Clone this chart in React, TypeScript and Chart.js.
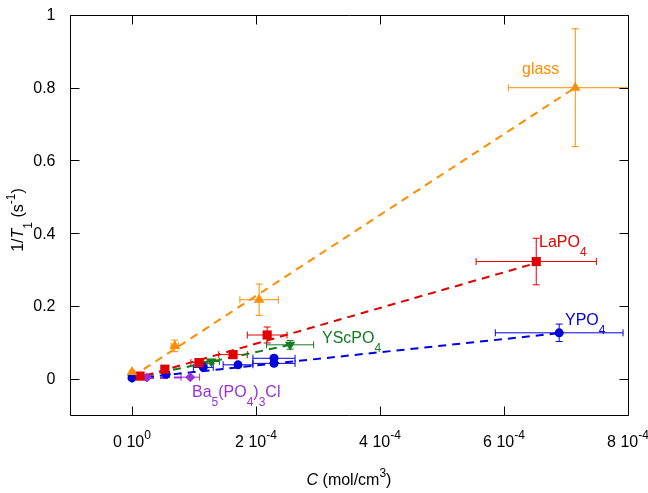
import React, { useEffect, useRef } from 'react';
import { Chart, registerables } from 'chart.js';

Chart.register(...registerables);

// ---- data (concentration C in mol/cm3, 1/T1 in s^-1) ----
const glassX = [0, 6.9e-5, 2.05e-4, 7.15e-4];
const glassY = [0.018, 0.09, 0.217, 0.8];
const glassXErr = [0, 6e-6, 3.1e-5, 1.08e-4];
const glassYErr = [0.004, 0.016, 0.043, 0.162];

const laX = [1.3e-5, 5.3e-5, 1.08e-4, 1.63e-4, 2.18e-4, 6.52e-4];
const laY = [0.007, 0.026, 0.044, 0.066, 0.12, 0.322];
const laXErr = [2e-6, 5e-6, 1.3e-5, 2.3e-5, 3.2e-5, 9.7e-5];
const laYErr = [0.003, 0.005, 0.007, 0.01, 0.022, 0.064];

const ypoX = [0, 5.5e-5, 1.15e-4, 1.71e-4, 2.29e-4, 2.29e-4, 6.89e-4];
const ypoY = [0.002, 0.012, 0.031, 0.038, 0.056, 0.042, 0.126];
const ypoXErr = [0, 5e-6, 1.6e-5, 2.4e-5, 3.4e-5, 3.4e-5, 1.03e-4];
const ypoYErr = [0.002, 0.003, 0.004, 0.005, 0.008, 0.006, 0.024];

const yscX = [0, 1.28e-4, 2.55e-4];
const yscY = [0.004, 0.047, 0.093];
const yscXErr = [0, 1.3e-5, 3.8e-5];
const yscYErr = [0.003, 0.006, 0.012];

const baX = [2.4e-5, 9.4e-5];
const baY = [0.003, 0.004];
const baXErr = [3e-6, 1.5e-5];
const baYErr = [0.002, 0.002];

// dashed fit lines (end points)
const glassFitX = [0, 7.1e-4];
const glassFitY = [0.005, 0.795];
const laFitX = [0, 6.52e-4];
const laFitY = [-0.002, 0.318];
const ypoFitX = [0, 6.89e-4];
const ypoFitY = [0.0, 0.125];
const yscFitX = [0, 2.55e-4];
const yscFitY = [0.0, 0.093];
const baFitX = [0, 9.4e-5];
const baFitY = [0.0, 0.004];

// axes
const xTicks = [0, 2e-4, 4e-4, 6e-4, 8e-4];
const xTickMant = ['0 10', '2 10', '4 10', '6 10', '8 10'];
const xTickExp = ['0', '-4', '-4', '-4', '-4'];
const yTicks = [0, 0.2, 0.4, 0.6, 0.8, 1];
const yTickLabels = ['0', '0.2', '0.4', '0.6', '0.8', '1'];

const C_GLASS = '#ff8c00';
const C_LA = '#e00000';
const C_YPO = '#0000dd';
const C_YSC = '#157a22';
const C_BA = '#9b30d8';

const FONT = '"Liberation Sans", Arial, Helvetica, sans-serif';

type Seg = { t: string; k?: 'sub' | 'sup'; i?: boolean };

function segFont(s: Seg, base: number) {
  const size = s.k ? Math.round(base * 0.75) : base;
  return `${s.i ? 'italic ' : ''}${size}px ${FONT}`;
}

function drawRich(ctx: CanvasRenderingContext2D, segs: Seg[], x: number, y: number, align: 'left' | 'center', base = 16) {
  let total = 0;
  const widths = segs.map((s) => {
    ctx.font = segFont(s, base);
    const w = ctx.measureText(s.t).width;
    total += w;
    return w;
  });
  let cx = align === 'center' ? x - total / 2 : x;
  ctx.textAlign = 'left';
  ctx.textBaseline = 'alphabetic';
  segs.forEach((s, idx) => {
    ctx.font = segFont(s, base);
    const dy = s.k === 'sub' ? 9 : s.k === 'sup' ? -8 : 0;
    ctx.fillText(s.t, cx, y + dy);
    cx += widths[idx];
  });
}

const pts = (xs: number[], ys: number[]) => xs.map((x, i) => ({ x, y: ys[i] }));

const errSets = [
  { x: glassX, y: glassY, xe: glassXErr, ye: glassYErr, c: C_GLASS },
  { x: laX, y: laY, xe: laXErr, ye: laYErr, c: C_LA },
  { x: ypoX, y: ypoY, xe: ypoXErr, ye: ypoYErr, c: C_YPO },
  { x: yscX, y: yscY, xe: yscXErr, ye: yscYErr, c: C_YSC },
  { x: baX, y: baY, xe: baXErr, ye: baYErr, c: C_BA },
];

const errorBarPlugin = {
  id: 'errorBars',
  beforeDatasetsDraw(chart: any) {
    const { ctx, chartArea: a, scales } = chart;
    const sx = scales.x;
    const sy = scales.y;
    ctx.save();
    ctx.beginPath();
    ctx.rect(a.left, a.top, a.right - a.left, a.bottom - a.top);
    ctx.clip();
    ctx.lineWidth = 1;
    const cap = 3.5;
    errSets.forEach((s) => {
      ctx.strokeStyle = s.c;
      s.x.forEach((xv, i) => {
        const px = sx.getPixelForValue(xv);
        const py = sy.getPixelForValue(s.y[i]);
        if (s.xe[i] > 0) {
          const x1 = sx.getPixelForValue(xv - s.xe[i]);
          const x2 = sx.getPixelForValue(xv + s.xe[i]);
          ctx.beginPath();
          ctx.moveTo(x1, py);
          ctx.lineTo(x2, py);
          ctx.moveTo(x1, py - cap);
          ctx.lineTo(x1, py + cap);
          ctx.moveTo(x2, py - cap);
          ctx.lineTo(x2, py + cap);
          ctx.stroke();
        }
        if (s.ye[i] > 0) {
          const y1 = sy.getPixelForValue(s.y[i] - s.ye[i]);
          const y2 = sy.getPixelForValue(s.y[i] + s.ye[i]);
          ctx.beginPath();
          ctx.moveTo(px, y1);
          ctx.lineTo(px, y2);
          ctx.moveTo(px - cap, y1);
          ctx.lineTo(px + cap, y1);
          ctx.moveTo(px - cap, y2);
          ctx.lineTo(px + cap, y2);
          ctx.stroke();
        }
      });
    });
    ctx.restore();
  },
};

const framePlugin = {
  id: 'frame',
  afterDraw(chart: any) {
    const { ctx, chartArea: a, scales } = chart;
    const sx = scales.x;
    const sy = scales.y;
    const L = Math.round(a.left) + 0.5;
    const R = Math.round(a.right) + 0.5;
    const T = Math.round(a.top) + 0.5;
    const B = Math.round(a.bottom) + 0.5;
    const tl = 9;
    ctx.save();
    ctx.strokeStyle = '#000';
    ctx.lineWidth = 1;
    ctx.beginPath();
    ctx.rect(L, T, R - L, B - T);
    xTicks.forEach((v) => {
      const px = Math.round(sx.getPixelForValue(v)) + 0.5;
      ctx.moveTo(px, B);
      ctx.lineTo(px, B - tl);
      ctx.moveTo(px, T);
      ctx.lineTo(px, T + tl);
    });
    yTicks.forEach((v) => {
      const py = Math.round(sy.getPixelForValue(v)) + 0.5;
      ctx.moveTo(L, py);
      ctx.lineTo(L + tl, py);
      ctx.moveTo(R, py);
      ctx.lineTo(R - tl, py);
    });
    ctx.stroke();

    // tick labels
    ctx.fillStyle = '#000';
    ctx.font = `16px ${FONT}`;
    ctx.textAlign = 'right';
    ctx.textBaseline = 'middle';
    yTicks.forEach((v, i) => {
      ctx.fillText(yTickLabels[i], L - 15, sy.getPixelForValue(v) + 1);
    });
    xTicks.forEach((v, i) => {
      drawRich(ctx, [{ t: xTickMant[i] }, { t: xTickExp[i], k: 'sup' }], sx.getPixelForValue(v), B + 31, 'center');
    });

    // axis titles
    drawRich(ctx, [{ t: 'C', i: true }, { t: ' (mol/cm' }, { t: '3', k: 'sup' }, { t: ')' }], (a.left + a.right) / 2, B + 69, 'center');
    ctx.save();
    ctx.translate(23, (a.top + a.bottom) / 2 + 5);
    ctx.rotate(-Math.PI / 2);
    drawRich(ctx, [{ t: '1/' }, { t: 'T', i: true }, { t: '1', k: 'sub' }, { t: ' (s' }, { t: '-1', k: 'sup' }, { t: ')' }], 0, 0, 'center');
    ctx.restore();

    // series labels
    ctx.fillStyle = C_GLASS;
    drawRich(ctx, [{ t: 'glass' }], 522, 74, 'left');
    ctx.fillStyle = C_LA;
    drawRich(ctx, [{ t: 'LaPO' }, { t: '4', k: 'sub' }], 539, 247, 'left');
    ctx.fillStyle = C_YPO;
    drawRich(ctx, [{ t: 'YPO' }, { t: '4', k: 'sub' }], 565, 325, 'left');
    ctx.fillStyle = C_YSC;
    drawRich(ctx, [{ t: 'YScPO' }, { t: '4', k: 'sub' }], 322, 343, 'left');
    ctx.fillStyle = C_BA;
    drawRich(
      ctx,
      [{ t: 'Ba' }, { t: '5', k: 'sub' }, { t: '(PO' }, { t: '4', k: 'sub' }, { t: ')' }, { t: '3', k: 'sub' }, { t: 'Cl' }],
      192,
      397,
      'left'
    );
    ctx.restore();
  },
};

function pointSet(xs: number[], ys: number[], color: string, style: string, r: number, rot = 0) {
  return {
    type: 'scatter' as const,
    data: pts(xs, ys),
    showLine: false,
    pointStyle: style,
    pointRadius: r,
    pointRotation: rot,
    pointBackgroundColor: color,
    pointBorderColor: color,
    pointBorderWidth: 0,
    backgroundColor: color,
    borderColor: color,
  };
}

function fitSet(xs: number[], ys: number[], color: string) {
  return {
    type: 'scatter' as const,
    data: pts(xs, ys),
    showLine: true,
    pointRadius: 0,
    borderColor: color,
    borderWidth: 2,
    borderDash: [8, 6],
    fill: false,
  };
}

export default function App() {
  const ref = useRef<HTMLCanvasElement | null>(null);
  useEffect(() => {
    if (!ref.current) return;
    const chart = new Chart(ref.current, {
      type: 'scatter',
      data: {
        datasets: [
          pointSet(glassX, glassY, C_GLASS, 'triangle', 6),
          pointSet(laX, laY, C_LA, 'rect', 6.5),
          pointSet(ypoX, ypoY, C_YPO, 'circle', 4.5),
          pointSet(yscX, yscY, C_YSC, 'triangle', 6, 180),
          pointSet(baX, baY, C_BA, 'rectRot', 5),
          fitSet(glassFitX, glassFitY, C_GLASS),
          fitSet(laFitX, laFitY, C_LA),
          fitSet(ypoFitX, ypoFitY, C_YPO),
          fitSet(yscFitX, yscFitY, C_YSC),
          fitSet(baFitX, baFitY, C_BA),
        ] as any,
      },
      options: {
        animation: false,
        responsive: false,
        maintainAspectRatio: false,
        layout: { padding: { left: 70, right: 20, top: 15, bottom: 78 } },
        plugins: { legend: { display: false }, tooltip: { enabled: false } },
        scales: {
          x: { type: 'linear', min: -1e-4, max: 8e-4, display: false },
          y: { type: 'linear', min: -0.1, max: 1, display: false },
        },
      },
      plugins: [errorBarPlugin, framePlugin],
    });
    return () => chart.destroy();
  }, []);
  return (
    <div style={{ position: 'absolute', left: 0, top: 0, width: 648, height: 493, background: '#fff' }}>
      <canvas ref={ref} width={648} height={493} />
    </div>
  );
}
